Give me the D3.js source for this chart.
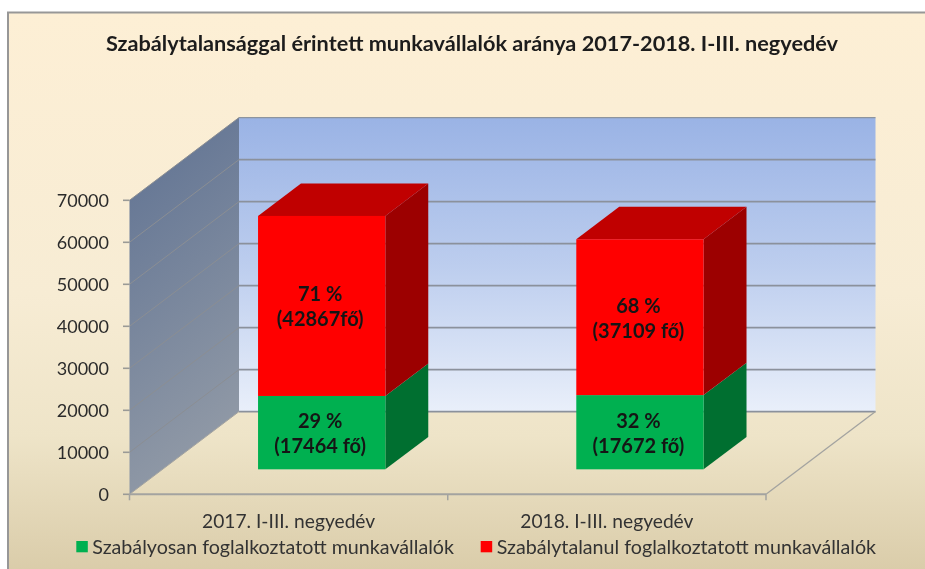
<!DOCTYPE html>
<html><head><meta charset="utf-8">
<script src="https://cdn.jsdelivr.net/npm/d3@7"></script>
<style>html,body{margin:0;padding:0;background:#fff;overflow:hidden}svg{display:block;filter:blur(0.5px)}text{font-family:Lato,"Open Sans",sans-serif}</style>
</head><body><svg id="c" width="925" height="569"></svg>
<script>
const chartTitle = "Szabálytalansággal érintett munkavállalók aránya 2017-2018. I-III. negyedév";
const categories = ["2017. I-III. negyedév", "2018. I-III. negyedév"];
const regularValues = [17464, 17672];
const irregularValues = [42867, 37109];
const regularLabels = [["29 %", "(17464 fő)"], ["32 %", "(17672 fő)"]];
const irregularLabels = [["71 %", "(42867fő)"], ["68 %", "(37109 fő)"]];
const seriesNames = ["Szabályosan foglalkoztatott munkavállalók", "Szabálytalanul foglalkoztatott munkavállalók"];
const yTicks = [0, 10000, 20000, 30000, 40000, 50000, 60000, 70000];

const svg = d3.select("#c");
const defs = svg.append("defs");
function grad(id, x2, y2, stops) {
  const g = defs.append("linearGradient").attr("id", id).attr("x1", 0).attr("y1", 0).attr("x2", x2).attr("y2", y2);
  stops.forEach(([o, c]) => g.append("stop").attr("offset", o).attr("stop-color", c));
}
grad("bg", 0, 1, [[0, "#fdefd5"], [0.5, "#f7ecd4"], [0.75, "#eee4c8"], [1, "#d9cba8"]]);
grad("wall", 0, 1, [[0, "#9ab3e5"], [0.5, "#bccdee"], [1, "#e9effa"]]);
grad("side", 0.25, 1, [[0, "#5e7192"], [1, "#9099a6"]]);

const x = d3.scaleBand().domain(categories).range([129.5, 766]);
const y = d3.scaleLinear().domain([0, 70000]).range([494.3, 200.3]);
const depthX = 109.5, depthY = 82.7;
const barDepth = [0.302, 0.694];
const P = (px, v, d) => [px + d * depthX, y(v) - d * depthY];
const poly = pts => pts.map(p => p.join(",")).join(" ");
const [x0, x1] = x.range();
const maxValue = d3.max(yTicks);

svg.append("rect").attr("x", 8).attr("y", 12.5).attr("width", 925).attr("height", 565)
  .attr("fill", "url(#bg)").attr("stroke", "#979797").attr("stroke-width", 2);

svg.append("polygon").attr("fill", "url(#wall)")
  .attr("points", poly([P(x0, maxValue, 1), P(x1, maxValue, 1), P(x1, 0, 1), P(x0, 0, 1)]));
svg.append("polygon").attr("fill", "url(#side)")
  .attr("points", poly([P(x0, maxValue, 0), P(x0, maxValue, 1), P(x0, 0, 1), P(x0, 0, 0)]));

yTicks.forEach(t => {
  const a = P(x0, t, 0), b = P(x0, t, 1), c = P(x1, t, 1);
  if (t > 0) svg.append("line").attr("x1", a[0]).attr("y1", a[1]).attr("x2", b[0]).attr("y2", b[1])
    .attr("stroke", "#8b8e93").attr("stroke-width", 1);
  svg.append("line").attr("x1", b[0]).attr("y1", b[1]).attr("x2", c[0]).attr("y2", c[1])
    .attr("stroke", t === maxValue ? "#8d949e" : "#8b919c").attr("stroke-width", t === maxValue ? 1.2 : 1.6);
  svg.append("line").attr("x1", a[0] - 6.5).attr("y1", a[1]).attr("x2", a[0]).attr("y2", a[1])
    .attr("stroke", "#9a9a96").attr("stroke-width", 1.6);
  svg.append("text").attr("x", 109).attr("y", a[1]).attr("dy", "0.35em").attr("text-anchor", "end")
    .attr("font-size", 18).attr("fill", "#2b2b2b").text(d3.format("d")(t));
});

// floor edges and axis
const edge = (a, b, w) => svg.append("line").attr("x1", a[0]).attr("y1", a[1]).attr("x2", b[0]).attr("y2", b[1])
  .attr("stroke", "#a3a3a0").attr("stroke-width", w);
edge(P(x0, 0, 0), P(x1, 0, 0), 2);
edge(P(x0, 0, 0), P(x0, 0, 1), 1);
edge(P(x1, 0, 0), P(x1, 0, 1), 1.3);
[x0, x(categories[1]), x1].forEach(v => edge([v, y(0)], [v, y(0) + 6], 1.5));

categories.forEach((cat, i) => {
  const w = x.bandwidth() * 0.4;
  const a = x(cat) + (x.bandwidth() - w) / 2, b = a + w;
  const [d0, d1] = barDepth;
  const r = regularValues[i], tot = r + irregularValues[i];
  const seg = (from, to, front, side, topCol) => {
    svg.append("polygon").attr("fill", side)
      .attr("points", poly([P(b, from, d0), P(b, from, d1), P(b, to, d1), P(b, to, d0)]));
    if (topCol) svg.append("polygon").attr("fill", topCol)
      .attr("points", poly([P(a, to, d0), P(a, to, d1), P(b, to, d1), P(b, to, d0)]));
    const p = P(a, to, d0), q = P(b, from, d0);
    svg.append("rect").attr("x", p[0]).attr("y", p[1]).attr("width", q[0] - p[0]).attr("height", q[1] - p[1]).attr("fill", front);
  };
  seg(0, r, "#00b050", "#006f30", null);
  seg(r, tot, "#ff0000", "#9c0000", "#c00000");
  const label = (lines, from, to) => {
    const c = P((a + b) / 2, (from + to) / 2, d0);
    lines.forEach((s, k) => svg.append("text").attr("x", c[0] - 1.5).attr("y", c[1] + 1 + (k - 0.5) * 25)
      .attr("dy", "0.35em").attr("text-anchor", "middle").attr("font-size", 20).attr("font-weight", 700)
      .attr("fill", "#151515").text(s));
  };
  label(regularLabels[i], 0, r);
  label(irregularLabels[i], r, tot);
  svg.append("text").attr("x", x(cat) + x.bandwidth() / 2).attr("y", 521.7).attr("dy", "0.35em")
    .attr("text-anchor", "middle").attr("font-size", 19.2).attr("fill", "#333").text(cat);
});

svg.append("text").attr("x", 472).attr("y", 43).attr("dy", "0.35em").attr("text-anchor", "middle")
  .attr("font-size", 21.7).attr("font-weight", 700).attr("fill", "#1c1c1c").text(chartTitle);

const legendColors = ["#00b050", "#ff0000"], legendX = [76.3, 480.7];
seriesNames.forEach((n, i) => {
  svg.append("rect").attr("x", legendX[i]).attr("y", 541).attr("width", 11.5).attr("height", 11.3).attr("fill", legendColors[i]);
  svg.append("text").attr("x", legendX[i] + 16).attr("y", 546.7).attr("dy", "0.35em")
    .attr("font-size", 19.7).attr("fill", "#333").text(n);
});
</script></body></html>
